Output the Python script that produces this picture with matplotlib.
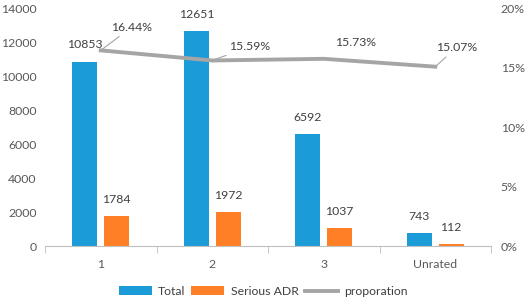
import matplotlib.pyplot as plt
import numpy as np

plt.rcParams['font.family'] = ['Lato', 'DejaVu Sans']

categories = ['1', '2', '3', 'Unrated']
total = [10853, 12651, 6592, 743]
serious = [1784, 1972, 1037, 112]
proportion = [16.44, 15.59, 15.73, 15.07]
prop_labels = ['16.44%', '15.59%', '15.73%', '15.07%']

blue = '#1B9BD7'
orange = '#FF7F27'
grey = '#A5A5A5'
txt = '#404040'
tick_col = '#595959'
fs = 8.8

fig = plt.figure(figsize=(5.26, 3.02), dpi=100)
ax = fig.add_axes([0.0856, 0.1854, 0.8479, 0.7881])
ax2 = ax.twinx()

x = np.arange(len(categories))
w = 0.224
off = 0.143
b1 = ax.bar(x - off, total, w, color=blue, label='Total', zorder=2)
b2 = ax.bar(x + off, serious, w, color=orange, label='Serious ADR', zorder=2)

for bars, vals in ((b1, total), (b2, serious)):
    for rect, v in zip(bars, vals):
        ax.annotate(str(v), (rect.get_x() + rect.get_width() / 2, v),
                    xytext=(0, 12), textcoords='offset points',
                    ha='center', va='center', fontsize=fs, color=txt)

ln, = ax2.plot(x, proportion, color=grey, lw=2.8, label='proporation',
               solid_joinstyle='miter', zorder=3)

# label offsets (points) for the line labels, leader line or not
lab_off = [(22, 16.5, True), (27, 10, True), (23, 11.5, False), (15, 13.5, True)]
for xi, p, s, (dx, dy, lead) in zip(x, proportion, prop_labels, lab_off):
    kw = {}
    if lead:
        kw['arrowprops'] = dict(arrowstyle='-', color=grey, lw=0.8,
                                shrinkA=1, shrinkB=0)
    ax2.annotate(s, (xi, p), xytext=(dx, dy), textcoords='offset points',
                 ha='center', va='center', fontsize=fs, color=txt, **kw)

ax.set_xlim(-0.5, 3.5)
ax.set_ylim(0, 14000)
ax.set_yticks(range(0, 14001, 2000))
ax2.set_ylim(0, 20)
ax2.set_yticks([0, 5, 10, 15, 20])
ax2.set_yticklabels(['0%', '5%', '10%', '15%', '20%'])

ax.set_xticks(x)
ax.set_xticklabels(categories)
ax.set_xticks(np.arange(-0.5, 4, 1), minor=True)
ax.tick_params(axis='x', which='major', length=0, pad=9, labelsize=fs, colors=tick_col)
ax.tick_params(axis='x', which='minor', length=5, color='#BFBFBF', direction='out')
ax.tick_params(axis='y', length=0, pad=6, labelsize=fs, colors=tick_col)
ax2.tick_params(axis='y', length=0, pad=7, labelsize=fs, colors=tick_col)

for a in (ax, ax2):
    for side in ('top', 'left', 'right', 'bottom'):
        a.spines[side].set_visible(False)
ax.spines['bottom'].set_visible(True)
ax.spines['bottom'].set_color('#BFBFBF')
ax.spines['bottom'].set_linewidth(0.8)

fig.legend(handles=[b1, b2, ln], labels=['Total', 'Serious ADR', 'proporation'],
           loc='lower center', bbox_to_anchor=(0.5, -0.02), ncol=3, frameon=False,
           fontsize=fs, handlelength=2.7, handleheight=0.8, columnspacing=0.5,
           handletextpad=0.5, labelcolor=txt)

fig.savefig('out.png', dpi=100)
